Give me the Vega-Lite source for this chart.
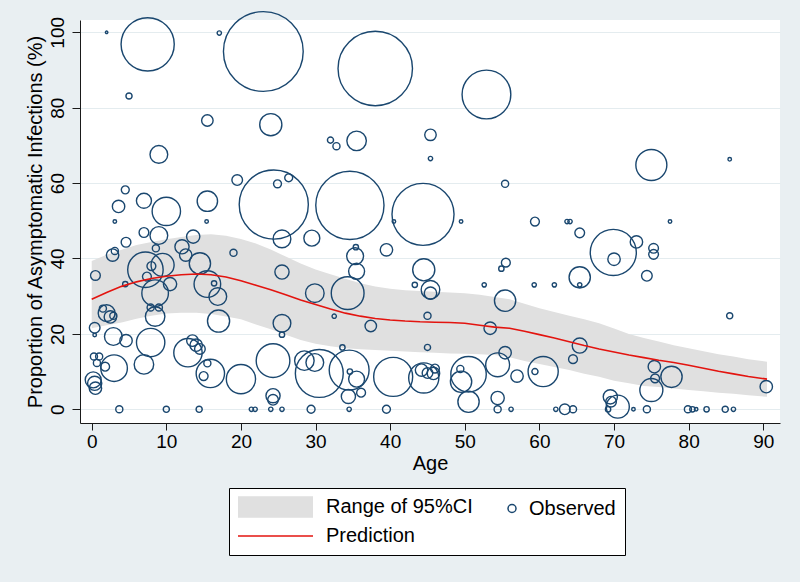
{
  "$schema": "https://vega.github.io/schema/vega-lite/v6.json",
  "width": 700,
  "height": 403,
  "autosize": {"type": "none"},
  "padding": {"left": 80, "top": 20, "right": 20, "bottom": 159},
  "background": "#e9eff2",
  "config": {
    "view": {"fill": "white", "stroke": null},
    "font": "Liberation Sans",
    "axis": {
      "domainColor": "#1a1a1a",
      "tickColor": "#1a1a1a",
      "labelColor": "black",
      "titleColor": "black",
      "labelFont": "Liberation Sans",
      "titleFont": "Liberation Sans",
      "labelFontSize": 19,
      "titleFontSize": 20,
      "titleFontWeight": "normal",
      "tickSize": 8,
      "domainWidth": 1,
      "tickWidth": 1
    },
    "legend": {
      "orient": "none",
      "legendX": 149,
      "legendY": 468,
      "direction": "horizontal",
      "columns": 2,
      "titleOrient": "left",
      "titleFontSize": 1,
      "titlePadding": 61,
      "labelFont": "Liberation Sans",
      "labelFontSize": 20,
      "labelColor": "black",
      "labelOffset": 7,
      "labelLimit": 300,
      "symbolSize": 64,
      "symbolStrokeWidth": 1.5,
      "symbolOpacity": 1,
      "padding": 9,
      "rowPadding": 6,
      "columnPadding": 29,
      "strokeColor": "black",
      "fillColor": "white"
    }
  },
  "datasets": {
    "curve": [
      {"age": 0, "lo": 21.5, "hi": 39.3, "pred": 29.2},
      {"age": 2, "lo": 22.3, "hi": 41.0, "pred": 31.0},
      {"age": 4, "lo": 23.0, "hi": 42.3, "pred": 32.6},
      {"age": 6, "lo": 24.0, "hi": 43.6, "pred": 33.8},
      {"age": 8, "lo": 24.8, "hi": 44.4, "pred": 34.7},
      {"age": 10, "lo": 25.4, "hi": 45.1, "pred": 35.3},
      {"age": 12, "lo": 25.6, "hi": 45.7, "pred": 35.7},
      {"age": 14, "lo": 25.6, "hi": 46.2, "pred": 35.9},
      {"age": 16, "lo": 25.3, "hi": 46.4, "pred": 35.7},
      {"age": 18, "lo": 24.6, "hi": 46.0, "pred": 35.1},
      {"age": 20, "lo": 23.9, "hi": 45.2, "pred": 34.1},
      {"age": 22, "lo": 22.5, "hi": 44.0, "pred": 32.9},
      {"age": 24, "lo": 21.2, "hi": 42.4, "pred": 31.7},
      {"age": 26, "lo": 19.8, "hi": 40.5, "pred": 30.4},
      {"age": 28, "lo": 18.4, "hi": 38.7, "pred": 29.0},
      {"age": 30, "lo": 17.4, "hi": 37.1, "pred": 27.8},
      {"age": 32, "lo": 16.7, "hi": 35.8, "pred": 26.6},
      {"age": 34, "lo": 16.2, "hi": 34.6, "pred": 25.5},
      {"age": 36, "lo": 15.9, "hi": 33.4, "pred": 24.7},
      {"age": 38, "lo": 15.7, "hi": 32.6, "pred": 24.1},
      {"age": 40, "lo": 15.5, "hi": 32.0, "pred": 23.7},
      {"age": 42, "lo": 15.3, "hi": 31.6, "pred": 23.4},
      {"age": 44, "lo": 15.1, "hi": 31.4, "pred": 23.2},
      {"age": 46, "lo": 15.0, "hi": 31.2, "pred": 23.1},
      {"age": 48, "lo": 14.8, "hi": 31.0, "pred": 23.0},
      {"age": 50, "lo": 14.7, "hi": 30.8, "pred": 22.8},
      {"age": 52, "lo": 14.6, "hi": 30.4, "pred": 22.3},
      {"age": 54, "lo": 14.4, "hi": 29.8, "pred": 21.8},
      {"age": 56, "lo": 13.8, "hi": 29.2, "pred": 21.5},
      {"age": 58, "lo": 12.8, "hi": 28.0, "pred": 20.7},
      {"age": 60, "lo": 12.0, "hi": 26.8, "pred": 19.8},
      {"age": 62, "lo": 11.2, "hi": 25.8, "pred": 18.9},
      {"age": 64, "lo": 10.4, "hi": 24.8, "pred": 17.9},
      {"age": 66, "lo": 9.4, "hi": 23.9, "pred": 16.9},
      {"age": 68, "lo": 8.6, "hi": 22.8, "pred": 16.0},
      {"age": 70, "lo": 7.6, "hi": 21.4, "pred": 15.2},
      {"age": 72, "lo": 6.9, "hi": 20.0, "pred": 14.4},
      {"age": 74, "lo": 6.2, "hi": 18.9, "pred": 13.7},
      {"age": 76, "lo": 5.9, "hi": 18.0, "pred": 13.0},
      {"age": 78, "lo": 5.5, "hi": 17.0, "pred": 12.4},
      {"age": 80, "lo": 5.1, "hi": 16.2, "pred": 11.7},
      {"age": 82, "lo": 4.8, "hi": 15.4, "pred": 10.9},
      {"age": 84, "lo": 4.4, "hi": 14.6, "pred": 10.1},
      {"age": 86, "lo": 4.1, "hi": 14.0, "pred": 9.4},
      {"age": 88, "lo": 3.7, "hi": 13.3, "pred": 8.7},
      {"age": 90.5, "lo": 3.3, "hi": 12.6, "pred": 8.0}
    ],
    "obs": [
      {"age": 2.0, "pct": 100, "weight": 2},
      {"age": 7.5, "pct": 96.8, "weight": 900},
      {"age": 17.1, "pct": 99.8, "weight": 6},
      {"age": 23.0, "pct": 94.9, "weight": 2025},
      {"age": 38.0, "pct": 90.4, "weight": 1764},
      {"age": 52.9, "pct": 83.5, "weight": 756},
      {"age": 5.0, "pct": 83.1, "weight": 12},
      {"age": 15.5, "pct": 76.6, "weight": 42},
      {"age": 24.0, "pct": 75.5, "weight": 156},
      {"age": 32.0, "pct": 71.4, "weight": 12},
      {"age": 32.8, "pct": 69.8, "weight": 16},
      {"age": 35.5, "pct": 71.2, "weight": 121},
      {"age": 45.4, "pct": 72.8, "weight": 42},
      {"age": 45.4, "pct": 66.5, "weight": 6},
      {"age": 9.0, "pct": 67.6, "weight": 100},
      {"age": 75.0, "pct": 64.8, "weight": 306},
      {"age": 85.5, "pct": 66.3, "weight": 4},
      {"age": 19.5, "pct": 60.8, "weight": 36},
      {"age": 24.9, "pct": 59.8, "weight": 20},
      {"age": 26.4, "pct": 61.4, "weight": 20},
      {"age": 55.4, "pct": 59.8, "weight": 16},
      {"age": 4.5, "pct": 58.2, "weight": 20},
      {"age": 3.6, "pct": 53.8, "weight": 49},
      {"age": 7.0, "pct": 55.3, "weight": 72},
      {"age": 10.0, "pct": 52.5, "weight": 256},
      {"age": 15.5, "pct": 55.2, "weight": 132},
      {"age": 3.1, "pct": 49.8, "weight": 4},
      {"age": 15.4, "pct": 49.8, "weight": 4},
      {"age": 24.4, "pct": 54.3, "weight": 1521},
      {"age": 34.6, "pct": 54.1, "weight": 1482},
      {"age": 44.4, "pct": 51.7, "weight": 1225},
      {"age": 40.5, "pct": 49.8, "weight": 4},
      {"age": 49.5, "pct": 49.8, "weight": 4},
      {"age": 59.4, "pct": 49.8, "weight": 25},
      {"age": 63.7, "pct": 49.8, "weight": 6},
      {"age": 64.1, "pct": 49.8, "weight": 6},
      {"age": 65.4, "pct": 46.8, "weight": 30},
      {"age": 77.5, "pct": 49.8, "weight": 4},
      {"age": 7.0, "pct": 46.9, "weight": 30},
      {"age": 9.0, "pct": 46.1, "weight": 100},
      {"age": 4.6, "pct": 44.3, "weight": 30},
      {"age": 13.6, "pct": 45.8, "weight": 56},
      {"age": 25.5, "pct": 45.2, "weight": 100},
      {"age": 29.5, "pct": 45.4, "weight": 81},
      {"age": 73.0, "pct": 44.4, "weight": 49},
      {"age": 75.3, "pct": 42.7, "weight": 30},
      {"age": 75.3, "pct": 41.1, "weight": 30},
      {"age": 69.9, "pct": 41.6, "weight": 676},
      {"age": 70.0, "pct": 39.8, "weight": 49},
      {"age": 39.5, "pct": 42.3, "weight": 49},
      {"age": 35.3, "pct": 40.6, "weight": 90},
      {"age": 35.4, "pct": 43.0, "weight": 9},
      {"age": 12.1, "pct": 43.1, "weight": 64},
      {"age": 12.6, "pct": 40.9, "weight": 49},
      {"age": 2.8, "pct": 40.9, "weight": 49},
      {"age": 3.1, "pct": 42.0, "weight": 16},
      {"age": 8.6, "pct": 42.7, "weight": 16},
      {"age": 19.0, "pct": 41.5, "weight": 16},
      {"age": 55.5, "pct": 38.9, "weight": 25},
      {"age": 54.9, "pct": 37.3, "weight": 9},
      {"age": 7.2, "pct": 37.0, "weight": 400},
      {"age": 9.5, "pct": 38.3, "weight": 169},
      {"age": 14.5, "pct": 38.7, "weight": 144},
      {"age": 8.0, "pct": 38.0, "weight": 25},
      {"age": 0.5, "pct": 35.5, "weight": 30},
      {"age": 4.5, "pct": 33.2, "weight": 9},
      {"age": 7.4, "pct": 35.2, "weight": 25},
      {"age": 8.5, "pct": 30.8, "weight": 225},
      {"age": 10.5, "pct": 33.2, "weight": 56},
      {"age": 15.5, "pct": 33.2, "weight": 225},
      {"age": 16.4, "pct": 33.4, "weight": 9},
      {"age": 16.9, "pct": 29.9, "weight": 100},
      {"age": 25.5, "pct": 36.4, "weight": 64},
      {"age": 35.5, "pct": 36.6, "weight": 81},
      {"age": 44.5, "pct": 37.0, "weight": 156},
      {"age": 65.4, "pct": 35.0, "weight": 144},
      {"age": 74.4, "pct": 35.4, "weight": 36},
      {"age": 29.9, "pct": 30.8, "weight": 110},
      {"age": 34.3, "pct": 30.8, "weight": 342},
      {"age": 45.4, "pct": 31.7, "weight": 110},
      {"age": 45.4, "pct": 30.8, "weight": 49},
      {"age": 43.3, "pct": 33.0, "weight": 9},
      {"age": 52.6, "pct": 33.0, "weight": 6},
      {"age": 59.3, "pct": 33.0, "weight": 6},
      {"age": 62.0, "pct": 33.0, "weight": 6},
      {"age": 65.4, "pct": 33.0, "weight": 6},
      {"age": 55.4, "pct": 28.8, "weight": 144},
      {"age": 2.0, "pct": 25.5, "weight": 90},
      {"age": 2.5, "pct": 24.5, "weight": 49},
      {"age": 1.5, "pct": 26.7, "weight": 16},
      {"age": 2.9, "pct": 24.8, "weight": 16},
      {"age": 7.9, "pct": 27.0, "weight": 16},
      {"age": 9.0, "pct": 27.0, "weight": 16},
      {"age": 8.5, "pct": 24.6, "weight": 121},
      {"age": 0.4, "pct": 21.6, "weight": 36},
      {"age": 0.4, "pct": 19.7, "weight": 4},
      {"age": 2.9, "pct": 19.3, "weight": 100},
      {"age": 4.6, "pct": 18.2, "weight": 49},
      {"age": 7.9, "pct": 17.7, "weight": 256},
      {"age": 17.0, "pct": 23.4, "weight": 156},
      {"age": 25.5, "pct": 22.8, "weight": 100},
      {"age": 25.5, "pct": 19.8, "weight": 9},
      {"age": 32.5, "pct": 24.7, "weight": 6},
      {"age": 37.4, "pct": 22.1, "weight": 42},
      {"age": 45.0, "pct": 24.8, "weight": 16},
      {"age": 53.4, "pct": 21.5, "weight": 49},
      {"age": 65.4, "pct": 16.9, "weight": 72},
      {"age": 45.0, "pct": 16.4, "weight": 12},
      {"age": 85.5, "pct": 24.8, "weight": 12},
      {"age": 33.6, "pct": 16.4, "weight": 9},
      {"age": 13.5, "pct": 18.2, "weight": 42},
      {"age": 14.0, "pct": 17.0, "weight": 49},
      {"age": 14.5, "pct": 16.0, "weight": 36},
      {"age": 12.9, "pct": 15.0, "weight": 256},
      {"age": 0.3, "pct": 14.0, "weight": 16},
      {"age": 1.0, "pct": 14.0, "weight": 16},
      {"age": 0.7, "pct": 12.3, "weight": 16},
      {"age": 1.8, "pct": 11.3, "weight": 25},
      {"age": 3.0, "pct": 10.9, "weight": 225},
      {"age": 7.0, "pct": 11.9, "weight": 121},
      {"age": 0.2, "pct": 7.8, "weight": 81},
      {"age": 0.4, "pct": 6.9, "weight": 64},
      {"age": 0.5, "pct": 5.6, "weight": 49},
      {"age": 15.9, "pct": 9.5, "weight": 256},
      {"age": 15.0, "pct": 8.8, "weight": 25},
      {"age": 15.5, "pct": 12.2, "weight": 16},
      {"age": 20.0, "pct": 8.0, "weight": 272},
      {"age": 24.3, "pct": 12.9, "weight": 361},
      {"age": 28.5, "pct": 12.9, "weight": 121},
      {"age": 29.9, "pct": 12.4, "weight": 100},
      {"age": 30.5, "pct": 9.5, "weight": 729},
      {"age": 34.5, "pct": 10.4, "weight": 506},
      {"age": 35.5, "pct": 8.0, "weight": 81},
      {"age": 34.6, "pct": 10.0, "weight": 9},
      {"age": 40.4, "pct": 8.6, "weight": 484},
      {"age": 44.5, "pct": 8.3, "weight": 289},
      {"age": 44.2, "pct": 10.4, "weight": 49},
      {"age": 45.0, "pct": 9.6, "weight": 36},
      {"age": 45.8, "pct": 9.5, "weight": 49},
      {"age": 46.0, "pct": 10.8, "weight": 25},
      {"age": 50.5, "pct": 9.3, "weight": 400},
      {"age": 49.5, "pct": 7.3, "weight": 144},
      {"age": 49.4, "pct": 10.7, "weight": 16},
      {"age": 54.4, "pct": 11.8, "weight": 182},
      {"age": 55.4, "pct": 15.0, "weight": 49},
      {"age": 57.0, "pct": 8.8, "weight": 49},
      {"age": 60.5, "pct": 10.0, "weight": 289},
      {"age": 59.4, "pct": 10.0, "weight": 12},
      {"age": 64.5, "pct": 13.3, "weight": 25},
      {"age": 75.4, "pct": 11.3, "weight": 49},
      {"age": 75.5, "pct": 8.2, "weight": 25},
      {"age": 77.7, "pct": 8.6, "weight": 144},
      {"age": 75.0, "pct": 5.1, "weight": 169},
      {"age": 90.4, "pct": 6.0, "weight": 49},
      {"age": 24.3, "pct": 3.6, "weight": 64},
      {"age": 24.3, "pct": 2.5, "weight": 36},
      {"age": 34.4, "pct": 3.4, "weight": 64},
      {"age": 36.1, "pct": 4.4, "weight": 25},
      {"age": 50.5, "pct": 2.0, "weight": 144},
      {"age": 54.4, "pct": 3.0, "weight": 56},
      {"age": 69.5, "pct": 3.3, "weight": 64},
      {"age": 69.6, "pct": 2.0, "weight": 36},
      {"age": 70.5, "pct": 0.7, "weight": 169},
      {"age": 3.7, "pct": 0, "weight": 16},
      {"age": 10.0, "pct": 0, "weight": 12},
      {"age": 14.4, "pct": 0, "weight": 12},
      {"age": 21.4, "pct": 0, "weight": 6},
      {"age": 21.9, "pct": 0, "weight": 6},
      {"age": 24.0, "pct": 0, "weight": 6},
      {"age": 25.5, "pct": 0, "weight": 6},
      {"age": 29.4, "pct": 0, "weight": 20},
      {"age": 34.5, "pct": 0, "weight": 6},
      {"age": 39.5, "pct": 0, "weight": 20},
      {"age": 54.4, "pct": 0, "weight": 16},
      {"age": 56.2, "pct": 0, "weight": 6},
      {"age": 62.2, "pct": 0, "weight": 6},
      {"age": 63.4, "pct": 0, "weight": 36},
      {"age": 64.5, "pct": 0, "weight": 16},
      {"age": 69.2, "pct": 0, "weight": 9},
      {"age": 72.6, "pct": 0, "weight": 4},
      {"age": 74.4, "pct": 0, "weight": 16},
      {"age": 79.9, "pct": 0, "weight": 16},
      {"age": 80.5, "pct": 0, "weight": 9},
      {"age": 81.0, "pct": 0, "weight": 4},
      {"age": 82.4, "pct": 0, "weight": 9},
      {"age": 84.9, "pct": 0, "weight": 12},
      {"age": 86.0, "pct": 0, "weight": 6}
    ]
  },
  "encoding": {
    "x": {
      "field": "age",
      "type": "quantitative",
      "scale": {"domain": [-1.568, 92.24], "nice": false, "zero": false},
      "axis": {
        "title": "Age",
        "values": [0, 10, 20, 30, 40, 50, 60, 70, 80, 90],
        "grid": false,
        "labelPadding": 2,
        "titlePadding": 2,
        "tickSize": 7
      }
    }
  },
  "layer": [
    {
      "data": {"name": "curve"},
      "mark": {"type": "area", "color": "#e0e0e0", "opacity": 1},
      "encoding": {
        "y": {
          "field": "lo",
          "type": "quantitative",
          "scale": {"domain": [-3.64, 103.26], "nice": false, "zero": false},
          "axis": {
            "title": "Proportion of Asymptomatic Infections (%)",
            "values": [0, 20, 40, 60, 80, 100],
            "grid": true,
            "gridColor": "#e4ecef",
            "gridWidth": 1,
            "labelAngle": 270,
            "labelAlign": "center",
            "labelBaseline": "bottom",
            "labelPadding": 5,
            "titlePadding": 3
          }
        },
        "y2": {"field": "hi"}
      }
    },
    {
      "data": {"name": "obs"},
      "mark": {"type": "point", "filled": false, "strokeWidth": 1.4, "opacity": 1},
      "encoding": {
        "y": {"field": "pct", "type": "quantitative"},
        "size": {
          "field": "weight",
          "type": "quantitative",
          "scale": {"domain": [0, 2025], "range": [0, 6362], "zero": true},
          "legend": null
        },
        "color": {
          "datum": "Observed",
          "type": "nominal",
          "scale": {
            "domain": ["Range of 95%CI", "Observed", "Prediction"],
            "range": ["#e0e0e0", "#1a476f", "#e3140f"]
          },
          "legend": {"title": " "}
        },
        "shape": {
          "datum": "Observed",
          "type": "nominal",
          "scale": {
            "domain": ["Range of 95%CI", "Observed", "Prediction"],
            "range": [
              "M-17.75,-2.5H1M-17.75,-2.25H1M-17.75,-2H1M-17.75,-1.75H1M-17.75,-1.5H1M-17.75,-1.25H1M-17.75,-1H1M-17.75,-0.75H1M-17.75,-0.5H1M-17.75,-0.25H1M-17.75,0H1M-17.75,0.25H1M-17.75,0.5H1M-17.75,0.75H1M-17.75,1H1M-17.75,1.25H1M-17.75,1.5H1M-17.75,1.75H1M-17.75,2H1M-17.75,2.25H1M-17.75,2.5H1",
              "circle",
              "M-17.75,0H1"
            ]
          },
          "legend": {"title": " "}
        }
      }
    },
    {
      "data": {"name": "curve"},
      "mark": {"type": "line", "color": "#e3140f", "strokeWidth": 1.6},
      "encoding": {
        "y": {"field": "pred", "type": "quantitative"}
      }
    }
  ]
}
